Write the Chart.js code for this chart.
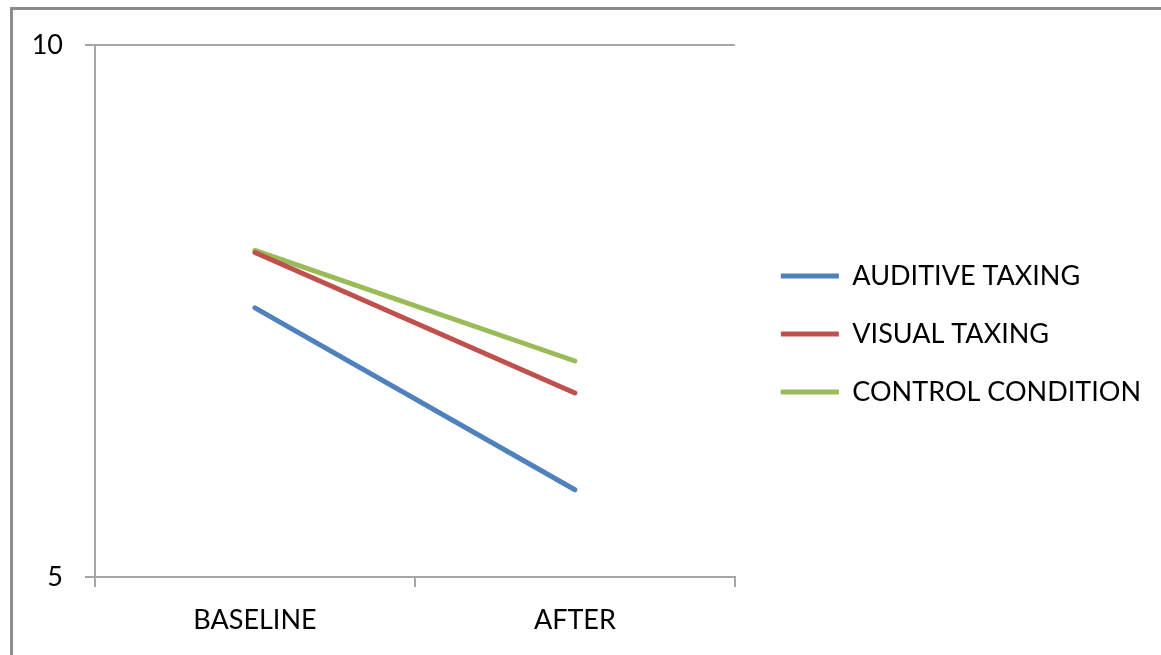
<!DOCTYPE html>
<html>
<head>
<meta charset="utf-8">
<script src="https://cdn.jsdelivr.net/npm/chart.js@4.4.1/dist/chart.umd.min.js"></script>
<style>
  html, body { margin: 0; padding: 0; background: #fff; }
  #wrap { position: relative; width: 1161px; height: 655px; overflow: hidden; }
  #frame { position: absolute; left: 10px; top: 7px; width: 1200px; height: 700px;
           border-left: 3px solid #8c8c8c; border-top: 3px solid #8c8c8c; pointer-events: none; }
  canvas { position: absolute; left: 0; top: 0; }
</style>
</head>
<body>
<div id="wrap">
  <canvas id="chart" width="1161" height="655"></canvas>
  <div id="frame"></div>
</div>
<script>
const categories = ['BASELINE', 'AFTER'];
const seriesNames = ['AUDITIVE TAXING', 'VISUAL TAXING', 'CONTROL CONDITION'];
const auditive = [7.53, 5.82];
const visual = [8.05, 6.73];
const control = [8.07, 7.03];
const yTicks = [5, 10];
const colors = ['#4F81BD', '#C0504D', '#9BBB59'];

const FONT = "Lato, 'Open Sans', sans-serif";
Chart.defaults.font.family = FONT;
Chart.defaults.color = '#000';

const makeSet = (label, data, color) => ({
    label, data, borderColor: color, backgroundColor: color,
    borderWidth: 5, borderCapStyle: 'round', pointRadius: 0, pointHoverRadius: 0,
    fill: false, tension: 0, pointStyle: 'line'
});

// blank scales used only as spacers in the layout
const spacer = (position, size) => ({
    type: 'linear', position, display: true,
    grid: { display: false }, border: { display: false }, ticks: { display: false },
    afterFit: (s) => { if (position === 'top') s.height = size; else s.width = size; }
});

new Chart(document.getElementById('chart').getContext('2d'), {
    type: 'line',
    data: {
        labels: categories,
        datasets: [
            makeSet(seriesNames[0], auditive, colors[0]),
            makeSet(seriesNames[1], visual, colors[1]),
            makeSet(seriesNames[2], control, colors[2])
        ]
    },
    options: {
        responsive: false, animation: false, devicePixelRatio: 1,
        layout: { padding: { top: 13, right: 10, bottom: 0, left: 0 } },
        scales: {
            x: {
                offset: true,
                grid: { offset: true, drawOnChartArea: false, color: '#a6a6a6', tickLength: 10, lineWidth: 2 },
                border: { color: '#a6a6a6', width: 2 },
                ticks: { font: { size: 27 }, color: '#000', padding: 17 },
                afterFit: (s) => { s.height = 78; }
            },
            y: {
                min: yTicks[0], max: yTicks[1],
                afterBuildTicks: (s) => { s.ticks = yTicks.map(v => ({ value: v })); },
                grid: { color: '#a6a6a6', tickLength: 10, lineWidth: 2 },
                border: { color: '#a6a6a6', width: 2 },
                ticks: { font: { size: 27 }, color: '#000', padding: 22 },
                afterFit: (s) => { s.width = 95; }
            },
            gapTop: spacer('top', 32),
            gapRight: spacer('right', 15)
        },
        plugins: {
            legend: {
                position: 'right', maxWidth: 600,
                labels: {
                    usePointStyle: true, pointStyleWidth: 58, boxHeight: 5,
                    font: { size: 27 }, color: '#000', padding: 31
                }
            },
            tooltip: { enabled: false }
        }
    }
});
</script>
</body>
</html>
